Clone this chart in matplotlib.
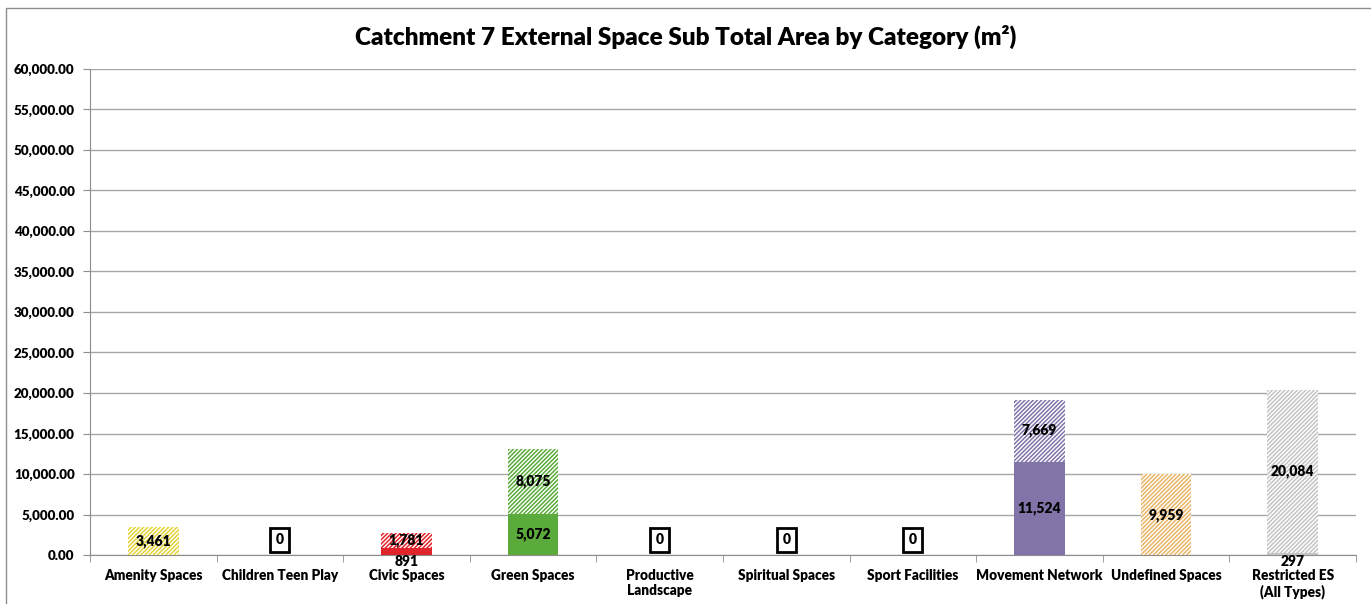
import matplotlib
matplotlib.use('Agg')
from matplotlib import pyplot as plt
from matplotlib.patches import Rectangle
from matplotlib.ticker import FuncFormatter
import numpy as np

categories = ['Amenity Spaces', 'Children Teen Play', 'Civic Spaces', 'Green Spaces',
              'Productive\nLandscape', 'Spiritual Spaces', 'Sport Facilities',
              'Movement Network', 'Undefined Spaces', 'Restricted ES\n(All Types)']
solid_vals = [0, 0, 891, 5072, 0, 0, 0, 11524, 0, 297]
hatch_vals = [3461, 0, 1781, 8075, 0, 0, 0, 7669, 9959, 20084]
colors = ['#e3d33a', '#bbbbbb', '#e0242c', '#5aaa3c', '#bbbbbb', '#bbbbbb', '#bbbbbb',
          '#8273a9', '#e8b566', '#c4c4c4']

plt.rcParams['font.family'] = ['Lato', 'DejaVu Sans']
plt.rcParams['font.weight'] = 'heavy'
plt.rcParams['hatch.linewidth'] = 1.1

fig = plt.figure(figsize=(13.71, 6.04), dpi=100)
ax = fig.add_axes([0.0656, 0.0811, 0.9235, 0.8047])

x = np.arange(len(categories))
w = 0.4
ax.bar(x, solid_vals, w, color=colors, linewidth=0, zorder=3)
for i in range(len(x)):
    ax.bar(x[i], hatch_vals[i], w, bottom=solid_vals[i], facecolor='white',
           edgecolor=colors[i], hatch='////////', linewidth=0, zorder=3)

# data labels
lab_fs = 10
for i in range(len(x)):
    s, h = solid_vals[i], hatch_vals[i]
    if s == 0 and h == 0:
        ax.text(x[i], 1900, '0', ha='center', va='center', fontsize=lab_fs, fontweight='heavy',
                bbox=dict(boxstyle='square,pad=0.4', fc='white', ec='black', lw=2), zorder=5)
        continue
    if s > 0:
        if s < 2000:
            ax.text(x[i], -800, format(s, ','), ha='center', va='center', fontsize=lab_fs,
                    fontweight='heavy', zorder=5)
        else:
            ax.text(x[i], s / 2, format(s, ','), ha='center', va='center', fontsize=lab_fs,
                    fontweight='heavy', zorder=5)
    if h > 0:
        ax.text(x[i], s + h / 2, format(h, ','), ha='center', va='center', fontsize=lab_fs,
                fontweight='heavy', zorder=5)

ax.set_xlim(-0.5, len(categories) - 0.5)
ax.set_ylim(0, 60000)
ax.set_yticks(np.arange(0, 60001, 5000))
ax.yaxis.set_major_formatter(FuncFormatter(lambda v, p: '{:,.2f}'.format(v)))
ax.grid(axis='y', color='#a6a6a6', linewidth=1, zorder=0)
ax.set_xticks(x)
ax.set_xticklabels(categories, fontsize=9.8, fontweight='heavy')
ax.set_xticks(np.arange(-0.5, len(categories), 1), minor=True)
ax.tick_params(axis='x', which='major', length=0, pad=10)
ax.tick_params(axis='x', which='minor', length=5, color='#8c8c8c')
ax.tick_params(axis='y', length=5, color='#8c8c8c', labelsize=9.6, pad=6)
for lab in ax.get_yticklabels():
    lab.set_fontweight('heavy')
for side in ['top', 'right']:
    ax.spines[side].set_visible(False)
for side in ['left', 'bottom']:
    ax.spines[side].set_color('#8c8c8c')

fig.text(0.5, 0.939, 'Catchment 7 External Space Sub Total Area by Category (m²)',
         ha='center', va='center', fontsize=17.5, fontweight='heavy')
fig.patches.append(Rectangle((0.0044, -0.01), 1.0, 0.997, transform=fig.transFigure,
                             fill=False, edgecolor='#8c8c8c', linewidth=1))

fig.savefig('out.png', dpi=100)
